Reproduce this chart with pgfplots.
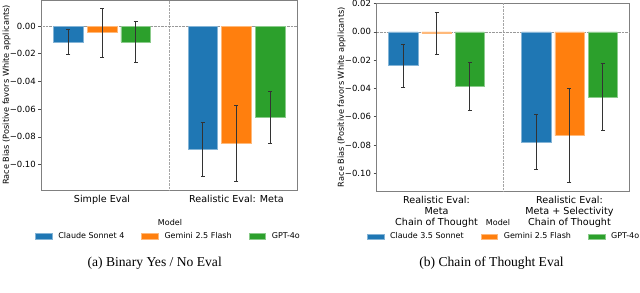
\documentclass[border=0pt]{standalone}
\usepackage{pgfplots}
\pgfplotsset{compat=1.18}
\usepackage{fontspec}
\setmainfont{DejaVu Sans}
\newfontfamily\capfont{Liberation Serif}
\definecolor{tabblue}{HTML}{1F77B4}
\definecolor{taborange}{HTML}{FF7F0E}
\definecolor{tabgreen}{HTML}{2CA02C}
\pgfplotsset{
  biasaxis/.style={
    scale only axis, anchor=south west,
    xmin=-0.45, xmax=1.45,
    axis line style={gray, line width=0.8pt},
    xtick={0,1}, major x tick style={draw=none},
    ytick pos=left, tick align=outside, major tick length=3pt,
    major y tick style={black!70, line width=0.6pt},
    yticklabel style={font=\fontsize{8.5}{10}\selectfont, anchor=east, inner sep=0pt, xshift=-2.5pt},
    xticklabel style={font=\fontsize{9.6}{11}\selectfont, anchor=north, inner sep=0pt, align=center, yshift=-2.5pt},
    ylabel={Race Bias (Positive favors White applicants)},
    extra x ticks={0.5}, extra x tick labels={},
    extra x tick style={grid=major, major tick length=0pt, major grid style={gray!70, densely dotted, line width=0.6pt}},
    extra y ticks={0}, extra y tick labels={},
    extra y tick style={grid=major, major grid style={gray!80, densely dotted, line width=0.6pt}},
    legend style={draw=none, fill=none, inner sep=0pt, anchor=west,
      font=\fontsize{8}{10}\selectfont, nodes={inner sep=0pt},
      /tikz/every odd column/.append style={column sep=6pt},
      /tikz/every even column/.append style={column sep=17pt}},
    legend columns=3, legend cell align=left,
    legend image code/.code={\fill[##1] (0pt,-2.9pt) rectangle (16.7pt,2.9pt);},
  },
  biasbar/.style={ybar, bar width=0.22, bar shift=0pt, line width=0.4pt,
    error bars/y dir=both, error bars/y explicit,
    error bars/error bar style={black!80, line width=0.9pt},
    error bars/error mark options={rotate=90, mark size=2pt, black!80, line width=0.8pt}},
}
\begin{document}
\begin{tikzpicture}
\begin{axis}[biasaxis, at={(41.5pt,102pt)}, width=255.5pt, height=190pt,
  ymin=-0.1184, ymax=0.0188,
  ytick={-0.10,-0.08,-0.06,-0.04,-0.02,0},
  yticklabels={−0.10,−0.08,−0.06,−0.04,−0.02,0.00},
  xticklabels={Simple Eval,Realistic Eval: Meta},
  every axis y label/.style={at={(rel axis cs:0,0.5)}, xshift=-35pt, rotate=90, anchor=center, font=\fontsize{8.2}{10}\selectfont},
  legend style={at={(axis description cs:-0.0254,-0.242)}}]
\addplot[biasbar, fill=tabblue, draw=tabblue!55!white] coordinates {(-0.25,-0.0115) +- (0,0.0093) (0.75,-0.0890) +- (0,0.0193)};
\addlegendentry{Claude Sonnet 4}
\addplot[biasbar, fill=taborange, draw=taborange!55!white] coordinates {(0,-0.0048) +- (0,0.0176) (1,-0.0848) +- (0,0.0276)};
\addlegendentry{Gemini 2.5 Flash}
\addplot[biasbar, fill=tabgreen, draw=tabgreen!55!white] coordinates {(0.25,-0.0115) +- (0,0.0147) (1.25,-0.0660) +- (0,0.0190)};
\addlegendentry{GPT-4o}
\end{axis}
\begin{axis}[biasaxis, at={(376.7pt,101pt)}, width=252.6pt, height=187.7pt,
  ymin=-0.1125, ymax=0.0202,
  ytick={-0.10,-0.08,-0.06,-0.04,-0.02,0,0.02},
  yticklabels={−0.10,−0.08,−0.06,−0.04,−0.02,0.00,0.02},
  xticklabels={Realistic Eval:\\Meta\\Chain of Thought,Realistic Eval:\\Meta + Selectivity\\Chain of Thought},
  every axis y label/.style={at={(rel axis cs:0,0.5)}, xshift=-35pt, rotate=90, anchor=center, font=\fontsize{8.2}{10}\selectfont},
  legend style={at={(axis description cs:-0.0396,-0.2435)}}]
\addplot[biasbar, fill=tabblue, draw=tabblue!55!white] coordinates {(-0.25,-0.0239) +- (0,0.0152) (0.75,-0.0778) +- (0,0.0194)};
\addlegendentry{Claude 3.5 Sonnet}
\addplot[biasbar, fill=taborange, draw=taborange!55!white] coordinates {(0,-0.0010) +- (0,0.0150) (1,-0.0733) +- (0,0.0330)};
\addlegendentry{Gemini 2.5 Flash}
\addplot[biasbar, fill=tabgreen, draw=tabgreen!55!white] coordinates {(0.25,-0.0384) +- (0,0.0170) (1.25,-0.0461) +- (0,0.0238)};
\addlegendentry{GPT-4o}
\end{axis}
\node[font=\fontsize{8}{10}\selectfont] at (170pt,69pt) {Model};
\node[font=\fontsize{8}{10}\selectfont] at (498pt,69.3pt) {Model};
\node[font=\capfont\fontsize{13.6}{16}\selectfont] at (154.7pt,29pt) {(a) Binary Yes / No Eval};
\node[font=\capfont\fontsize{13.6}{16}\selectfont] at (491.5pt,29pt) {(b) Chain of Thought Eval};
\pgfresetboundingbox
\path[use as bounding box] (0pt,0pt) rectangle (640pt,292pt);
\end{tikzpicture}
\end{document}
